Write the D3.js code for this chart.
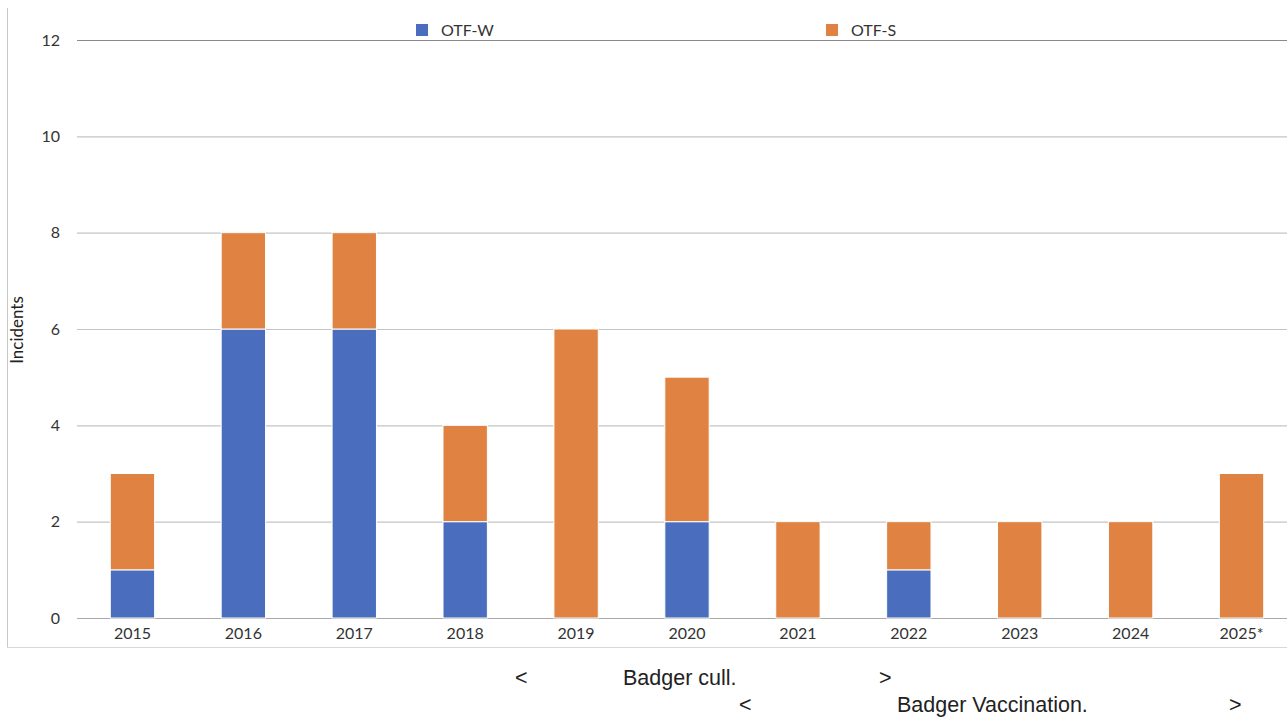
<!DOCTYPE html>
<html><head><meta charset="utf-8">
<script src="https://cdn.jsdelivr.net/npm/d3@7"></script>
<style>body{margin:0;background:#fff;} svg{display:block;}</style>
</head><body>
<svg id="c" width="1287" height="717"></svg>
<script>
const years = ["2015","2016","2017","2018","2019","2020","2021","2022","2023","2024","2025*"];
const otfW = [1,6,6,2,0,2,0,1,0,0,0];
const otfS = [2,2,2,2,6,3,2,1,2,2,3];
const seriesNames = ["OTF-W","OTF-S"];
const colors = ["#4a6ebd","#df8242"];
const yTicks = [0,2,4,6,8,10,12];

const svg = d3.select("#c");
const x = d3.scaleBand().domain(years).range([77,1297]).paddingInner(0.6).paddingOuter(0.3);
const y = d3.scaleLinear().domain([0,12]).range([618,40]);

// frame
svg.append("line").attr("x1",7.5).attr("x2",7.5).attr("y1",8).attr("y2",648).attr("stroke","#c8c8c8");
svg.append("line").attr("x1",7).attr("x2",1287).attr("y1",647.5).attr("y2",647.5).attr("stroke","#d8d8d8");

// grid
const yAxis = d3.axisLeft(y).tickValues(yTicks).tickSize(-(1287-77)).tickPadding(17);
const ga = svg.append("g").attr("transform","translate(77,0)").call(yAxis);
ga.select(".domain").remove();
ga.selectAll(".tick line").attr("stroke", d => d===12 ? "#8a8a8a" : (d===0 ? "#a8a8a8":"#c4c4c4")).attr("stroke-width",1.2);
ga.selectAll(".tick text").attr("font-family","Lato, 'Open Sans', sans-serif").attr("font-size",16).attr("fill","#333");

const stackData = years.map((yr,i)=>({year:yr, "OTF-W":otfW[i], "OTF-S":otfS[i]}));
const stack = d3.stack().keys(seriesNames)(stackData);
svg.append("g").selectAll("g").data(stack).join("g").attr("fill",(d,i)=>colors[i])
  .selectAll("rect").data(d=>d.filter(p=>p[1]-p[0]>0)).join("rect")
  .attr("x",d=>x(d.data.year)).attr("width",x.bandwidth())
  .attr("y",d=>y(d[1])).attr("height",d=>y(d[0])-y(d[1]))
  .attr("stroke","#ffffff").attr("stroke-width",1);

// x axis labels
const xa = svg.append("g").attr("transform","translate(0,618)").call(d3.axisBottom(x).tickSize(0).tickPadding(10));
xa.select(".domain").remove();
xa.selectAll(".tick text").attr("font-family","Lato, 'Open Sans', sans-serif").attr("font-size",16).attr("fill","#333");

// y label
svg.append("text").attr("transform","translate(23,330) rotate(-90)").attr("text-anchor","middle")
  .attr("font-family","Lato, 'Open Sans', sans-serif").attr("font-size",17).attr("fill","#222").text("Incidents");

// legend
const legX = [416,826];
seriesNames.forEach((n,i)=>{
  svg.append("rect").attr("x",legX[i]).attr("y",24).attr("width",12).attr("height",12).attr("fill",colors[i]);
  svg.append("text").attr("x",legX[i]+25).attr("y",36).attr("font-family","Lato, 'Open Sans', sans-serif")
    .attr("font-size",16).attr("fill","#333").text(n);
});

// annotations
const ann = [
  {t:"<", x:515, y:685}, {t:"Badger cull.", x:623, y:685}, {t:">", x:879, y:685},
  {t:"<", x:739, y:712}, {t:"Badger Vaccination.", x:897, y:712}, {t:">", x:1229, y:712}
];
svg.append("g").selectAll("text").data(ann).join("text")
  .attr("x",d=>d.x).attr("y",d=>d.y).attr("font-family","'Liberation Sans', Arial, sans-serif")
  .attr("font-size",21.5).attr("fill","#222").text(d=>d.t);
</script>
</body></html>
